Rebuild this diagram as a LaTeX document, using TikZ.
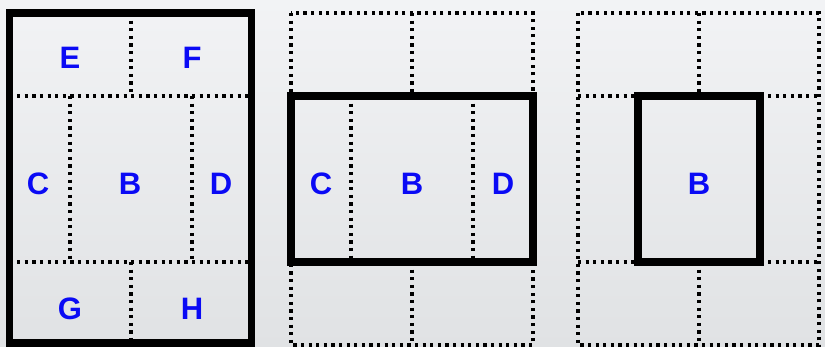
\documentclass[tikz,border=0pt]{standalone}
\usepackage{fontspec}
\setmainfont{Liberation Sans}
\definecolor{lblue}{RGB}{10,10,245}
\definecolor{bgtop}{RGB}{242,243,245}
\definecolor{bgbot}{RGB}{224,226,228}
\tikzset{
  dotline/.style={line width=3.4pt, dash pattern=on 3.2pt off 4.4pt, black},
  thickbox/.style={line width=7.5pt, black, line join=miter},
  lbl/.style={text=lblue, font=\fontsize{31}{31}\selectfont\bfseries, inner sep=0pt, text height=22.2pt, text depth=0pt, anchor=center}
}
\begin{document}
\begin{tikzpicture}[x=1pt,y=-1pt]
\useasboundingbox (0,0) rectangle (825,347);
\shade[top color=bgtop, bottom color=bgbot] (0,0) rectangle (825,347);

% Panel 1
\draw[dotline] (9.5,96) -- (251.5,96);
\draw[dotline] (9.5,262) -- (251.5,262);
\draw[dotline] (131,13) -- (131,96);
\draw[dotline] (131,262) -- (131,343);
\draw[dotline] (70,96) -- (70,262);
\draw[dotline] (192,96) -- (192,262);
\draw[thickbox] (9.5,13) rectangle (251.5,343);
\node[lbl] (e1) at (70,57) {E};
\node[lbl] (f1) at (192,57) {F};
\node[lbl] (c1) at (38,183) {C};
\node[lbl] (b1) at (130,183) {B};
\node[lbl] (d1) at (221,183) {D};
\node[lbl] (g1) at (70,308) {G};
\node[lbl] (h1) at (192,308) {H};

% Panel 2
\draw[dotline] (291,13) rectangle (533,345);
\draw[dotline] (412,13) -- (412,96);
\draw[dotline] (412,262) -- (412,345);
\draw[dotline] (351,96) -- (351,262);
\draw[dotline] (473,96) -- (473,262);
\draw[thickbox] (291,96) rectangle (533,262);
\node[lbl] (c2) at (321,183) {C};
\node[lbl] (b2) at (412,183) {B};
\node[lbl] (d2) at (503,183) {D};

% Panel 3
\draw[dotline] (578,13) rectangle (819,345);
\draw[dotline] (578,96) -- (819,96);
\draw[dotline] (578,262) -- (819,262);
\draw[dotline] (699,13) -- (699,96);
\draw[dotline] (699,262) -- (699,345);
\draw[thickbox] (638,96) rectangle (760,262);
\node[lbl] (b3) at (699,183) {B};
\end{tikzpicture}
\end{document}
